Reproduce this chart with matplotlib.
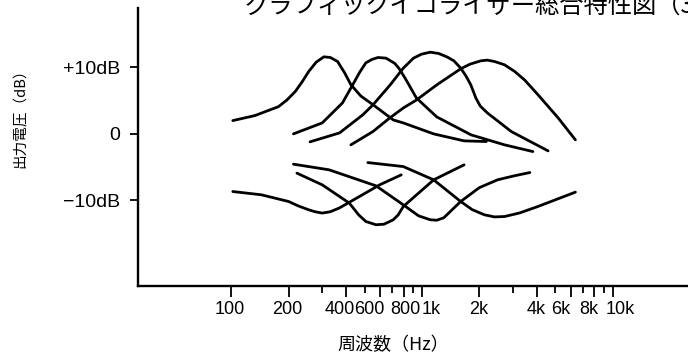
import matplotlib.pyplot as plt
import matplotlib.transforms as mtransforms
from matplotlib.ticker import FixedLocator, NullFormatter

jp = ['Noto Sans CJK JP', 'DejaVu Sans']
num = ['Liberation Sans', 'DejaVu Sans']

title = 'グラフィックイコライザー総合特性図（3'
xlabel = '周波数（Hz）'
ylabel = '出力電圧（dB）'

tick_hz = [100, 200, 400, 600, 800, 1000, 2000, 4000, 6000, 8000, 10000]
tick_names = ['100', '200', '400', '600', '800', '1k', '2k', '4k', '6k', '8k', '10k']
minor_hz = [300, 500, 700, 900, 3000, 5000, 7000, 9000]
db_ticks = [10, 0, -10]
db_names = ['+10dB', '0', '−10dB']

# the labels in the scan are not centred on their ticks (pixels)
label_nudge = [-1, -1, -6, -10, 2, 9, -1, -1, -10, -6, 7]

# boost curves
boost1_hz = [102, 133, 177, 196, 217, 235, 255, 279, 306, 331, 361, 393, 424, 478, 553, 707, 798, 1151, 1660, 2173]
boost1_db = [2.0, 2.75, 4.1, 5.1, 6.4, 7.8, 9.4, 10.8, 11.6, 11.5, 10.9, 9.2, 7.4, 5.7, 4.4, 2.1, 1.65, 0.0, -1.05, -1.15]

boost2_hz = [212, 300, 383, 433, 472, 508, 546, 588, 648, 721, 760, 815, 935, 1194, 1808, 2706, 3810]
boost2_db = [0.0, 1.65, 4.66, 7.37, 9.3, 10.7, 11.2, 11.5, 11.4, 10.6, 9.8, 8.4, 5.4, 2.56, -0.15, -1.65, -2.66]

boost3_hz = [259, 370, 489, 553, 681, 798, 902, 994, 1105, 1223, 1349, 1469, 1595, 1701, 1802, 1915, 2018, 2199, 2937, 4577]
boost3_db = [-1.2, 0.15, 2.86, 4.36, 7.37, 9.9, 11.4, 12.0, 12.3, 12.1, 11.6, 11.0, 9.9, 8.7, 7.37, 5.4, 4.2, 3.16, 0.35, -2.56]

boost4_hz = [424, 553, 678, 798, 935, 1194, 1595, 1786, 2036, 2199, 2395, 2706, 3058, 3453, 4050, 5170, 6364]
boost4_db = [-1.65, 0.35, 2.4, 3.9, 5.1, 7.37, 9.8, 10.5, 11.0, 11.1, 10.9, 10.4, 9.4, 8.1, 5.9, 2.4, -0.9]

# cut curves
cut1_hz = [102, 144, 200, 224, 255, 276, 300, 330, 368, 470, 600, 778]
cut1_db = [-8.68, -9.17, -10.18, -10.83, -11.43, -11.73, -11.92, -11.73, -11.17, -9.43, -7.67, -6.17]

cut2_hz = [221, 300, 416, 466, 508, 574, 632, 707, 750, 798, 1151, 1661]
cut2_db = [-5.91, -7.67, -10.42, -12.2, -13.19, -13.68, -13.6, -12.93, -12.2, -10.93, -6.92, -4.66]

cut3_hz = [212, 326, 574, 798, 958, 1105, 1194, 1300, 1595, 1995, 2485, 3058, 3673]
cut3_db = [-4.56, -5.41, -7.82, -10.68, -12.33, -12.93, -13.0, -12.63, -10.18, -8.1, -6.92, -6.3, -5.82]

cut4_hz = [520, 798, 1151, 1595, 1831, 2121, 2395, 2707, 3251, 4050, 6364]
cut4_db = [-4.32, -4.92, -6.92, -10.18, -11.4, -12.18, -12.5, -12.44, -11.9, -10.93, -8.77]

curves = [(boost1_hz, boost1_db), (boost2_hz, boost2_db), (boost3_hz, boost3_db),
          (boost4_hz, boost4_db), (cut1_hz, cut1_db), (cut2_hz, cut2_db),
          (cut3_hz, cut3_db), (cut4_hz, cut4_db)]

W, H = 688, 354
fig = plt.figure(figsize=(W / 100, H / 100), dpi=100)
ax = fig.add_axes([138 / W, 68 / H, (W - 138) / W + 0.01, 278 / H])

for hz, db in curves:
    ax.plot(hz, db, color='k', lw=2.0, solid_joinstyle='round', solid_capstyle='round')

ax.set_xscale('log')
ax.set_xlim(32.5, 26900)
ax.set_ylim(-22.9, 18.95)

ax.spines['top'].set_visible(False)
ax.spines['right'].set_visible(False)
ax.spines['left'].set_linewidth(1.7)
ax.spines['bottom'].set_linewidth(1.7)

ax.xaxis.set_major_locator(FixedLocator(tick_hz))
ax.xaxis.set_major_formatter(NullFormatter())
ax.xaxis.set_minor_locator(FixedLocator(minor_hz))
ax.xaxis.set_minor_formatter(NullFormatter())
ax.tick_params(axis='x', which='major', direction='out', length=8, width=1.3)
ax.tick_params(axis='x', which='minor', direction='out', length=5, width=1.3)

# x tick labels drawn as texts so they can sit where the scan has them
for hz, name, dx in zip(tick_hz, tick_names, label_nudge):
    tr = ax.get_xaxis_transform() + mtransforms.ScaledTranslation(dx / 100, 0, fig.dpi_scale_trans)
    ax.text(hz, -0.086, name, transform=tr, family=num, fontsize=13,
            ha='center', va='center', clip_on=False)

ax.set_yticks(db_ticks)
ax.set_yticklabels(db_names)
ax.tick_params(axis='y', direction='out', length=6, width=1.3, pad=7, labelsize=14)
for lab in ax.get_yticklabels():
    lab.set_family(num)

fig.text(245 / W, 1 - 14 / H, title, family=jp, fontsize=17.5, ha='left', va='baseline')
fig.text(393 / W, 1 - 345 / H, xlabel, family=jp, fontsize=13, ha='center', va='center')
fig.text(20 / W, 1 - 115 / H, ylabel, family=jp, fontsize=10.5, rotation=90, ha='center', va='center')

fig.savefig('out.png', dpi=100)
